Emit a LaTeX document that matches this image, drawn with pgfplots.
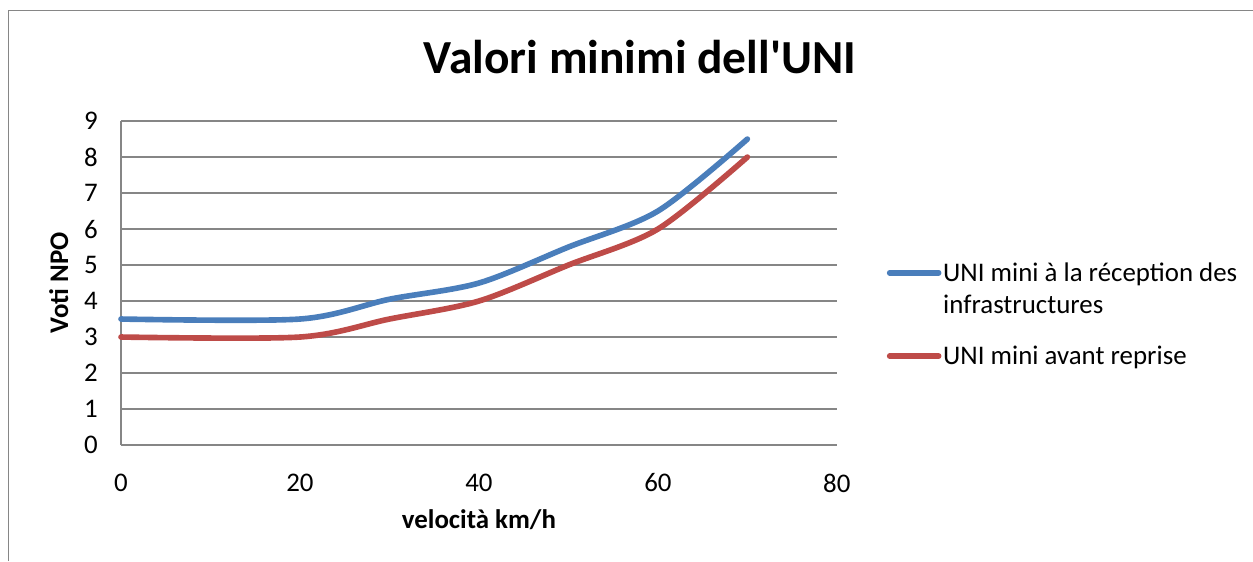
\documentclass[border=0pt]{standalone}
\usepackage{pgfplots}
\pgfplotsset{compat=1.18}
\usepackage{fontspec}
\setmainfont{Carlito}[Ligatures=TeXOff]

\definecolor{xlblue}{HTML}{4A7EBB}
\definecolor{xlred}{HTML}{BE4B48}
\definecolor{xlgrid}{HTML}{868686}

\pgfplotstableread{
x y
0 3.5
20 3.5
30 4.05
40 4.5
50 5.5
60 6.5
70 8.5
}\reception

\pgfplotstableread{
x y
0 3.0
20 3.0
30 3.5
40 4.0
50 5.0
60 6.0
70 8.0
}\avant

\begin{document}
\begin{tikzpicture}
\begin{axis}[
  scale only axis, width=14.32cm, height=6.48cm,
  xmin=0, xmax=80, ymin=0, ymax=9,
  xtick={0,20,...,80}, ytick={0,1,...,9},
  axis x line*=bottom, axis y line*=left,
  axis line style={xlgrid,line width=1.1pt},
  ymajorgrids, grid style={xlgrid,line width=1.1pt},
  major tick length=0pt,
  tick label style={font=\fontsize{15.3}{18}\selectfont, inner sep=0pt},
  xticklabel style={anchor=center, yshift=-0.76cm},
  yticklabel style={anchor=east, xshift=-0.46cm},
  /pgf/number format/assume math mode=true,
  xlabel={\textbf{velocità km/h}}, ylabel={\textbf{Voti NPO}},
  label style={font=\fontsize{15.3}{18}\selectfont},
  xlabel style={at={(axis description cs:0.5,-0.231)}, anchor=center},
  ylabel style={at={(axis description cs:-0.087,0.5)}, anchor=center},
  legend style={draw=none, fill=none, at={(1.062,0.58)}, anchor=north west,
    font=\fontsize{15.3}{18}\selectfont, row sep=15pt,
    nodes={align=left, inner sep=1pt}},
  legend cell align=left,
  legend image code/.code={\draw[#1,line cap=round] (0cm,0cm) -- (0.98cm,0cm);},
  clip=false,
]
% first legend entry has two text lines: its swatch sits on the first one
\addplot[xlblue, line width=3.2pt, smooth, tension=0.5, line cap=round,
  legend image code/.code={\draw[xlblue,line width=3.2pt,line cap=round] (0cm,0.33cm) -- (0.98cm,0.33cm);}]
  table {\reception};
\addplot[xlred, line width=3.2pt, smooth, tension=0.5, line cap=round] table {\avant};
\legend{UNI mini à la réception des\\infrastructures, UNI mini avant reprise}
\coordinate (O) at (rel axis cs:0,0);
\end{axis}
% extras in px relative to the axis corner (121,445 in a 1253x561 frame)
\begin{scope}[shift={(O)}, x=0.02cm, y=0.02cm]
\draw[xlgrid,line width=0.8pt] (-112.5,-116) -- (-112.5,434.5) -- (1132,434.5);
\node[font=\fontsize{27}{32}\selectfont\bfseries] at (519,388) {Valori minimi dell'UNI};
\pgfresetboundingbox
\path (-121,-116) rectangle (1132,445);
\end{scope}
\end{tikzpicture}
\end{document}
